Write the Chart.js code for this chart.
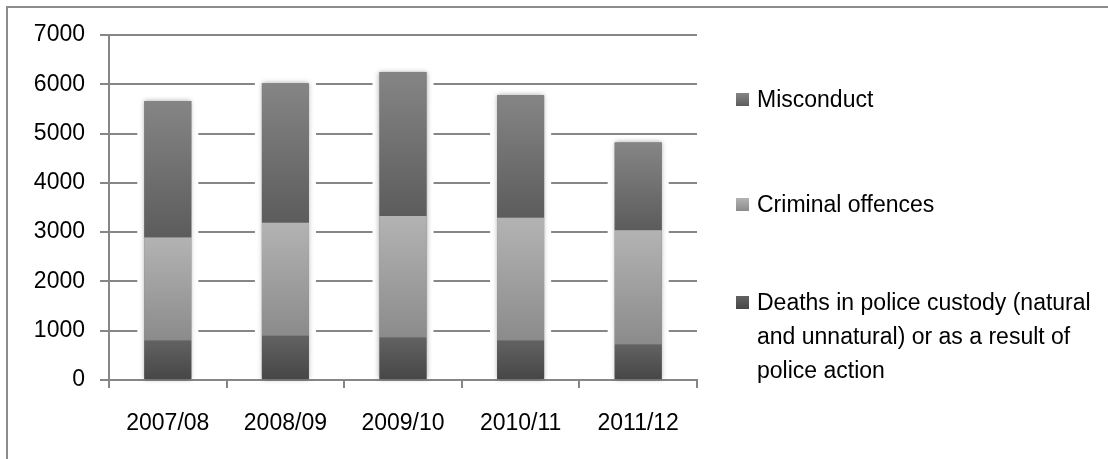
<!DOCTYPE html>
<html>
<head>
<meta charset="utf-8">
<script src="https://cdn.jsdelivr.net/npm/chart.js@4.4.0/dist/chart.umd.min.js"></script>
<style>
  html, body { margin: 0; padding: 0; background: #fff; }
  #wrap { position: relative; width: 1108px; height: 459px; overflow: hidden; }
  #frame { position: absolute; left: 6px; top: 6px; width: 1200px; height: 600px;
           border-top: 2px solid #8c8c8c; border-left: 2px solid #8c8c8c; }
  canvas { position: absolute; left: 0; top: 0; }
  .leg { position: absolute; left: 736px; font-family: "Liberation Sans", Arial, sans-serif;
         font-size: 23px; color: #000; line-height: 34px; }
  .leg .sw { position: absolute; left: 0; top: 11px; width: 13px; height: 13px; }
  .leg .tx { margin-left: 21px; white-space: nowrap; }
</style>
</head>
<body>
<div id="wrap">
  <div id="frame"></div>
  <canvas id="policeChart" width="1108" height="459"></canvas>
  <div id="legend"></div>
</div>
<script>
const years = ['2007/08', '2008/09', '2009/10', '2010/11', '2011/12'];
const deaths = [800, 900, 860, 800, 720];
const criminal = [2090, 2290, 2470, 2490, 2320];
const misconduct = [2770, 2830, 2920, 2490, 1780];
const yTicks = [0, 1000, 2000, 3000, 4000, 5000, 6000, 7000];

const deathsLabel = 'Deaths in police custody (natural and unnatural) or as a result of police action';
const shades = [
    ['#626262', '#464646'], // deaths
    ['#b3b3b3', '#8b8b8b'], // criminal offences
    ['#858585', '#5c5c5c']  // misconduct
];
const allSeries = [deaths, criminal, misconduct];

// vertical gradient per bar segment, like the original
function barFill(c) {
    const chart = c.chart;
    const y = chart.scales.y;
    const cols = shades[c.datasetIndex];
    if (!y || !chart.chartArea || c.dataIndex === undefined) return cols[0];
    let base = 0;
    for (let d = 0; d < c.datasetIndex; d++) base += allSeries[d][c.dataIndex];
    const top = y.getPixelForValue(base + allSeries[c.datasetIndex][c.dataIndex]);
    const bottom = y.getPixelForValue(base);
    const g = chart.ctx.createLinearGradient(0, top, 0, bottom);
    g.addColorStop(0, cols[0]);
    g.addColorStop(1, cols[1]);
    return g;
}

// white halo + soft shadow around each bar
const halo = {
    id: 'halo',
    beforeDatasetsDraw(chart) {
        const ctx = chart.ctx;
        const metas = chart.getSortedVisibleDatasetMetas();
        const last = metas[metas.length - 1];
        const first = metas[0];
        ctx.save();
        first.data.forEach((bar, i) => {
            const topBar = last.data[i];
            const left = bar.x - bar.width / 2;
            ctx.fillStyle = '#fff';
            ctx.fillRect(left - 7, topBar.y - 3, bar.width + 14, bar.base - topBar.y + 2);
            ctx.shadowColor = 'rgba(0,0,0,0.35)';
            ctx.shadowBlur = 5;
            ctx.fillStyle = '#777';
            ctx.fillRect(left, topBar.y, bar.width, bar.base - topBar.y);
            ctx.shadowColor = 'transparent';
        });
        ctx.restore();
    }
};

const ctx = document.getElementById('policeChart').getContext('2d');
const chart = new Chart(ctx, {
    type: 'bar',
    data: {
        labels: years,
        datasets: [
            { label: deathsLabel, data: deaths, backgroundColor: barFill },
            { label: 'Criminal offences', data: criminal, backgroundColor: barFill },
            { label: 'Misconduct', data: misconduct, backgroundColor: barFill }
        ]
    },
    options: {
        responsive: false,
        animation: false,
        devicePixelRatio: 1,
        layout: { padding: { top: 35, right: 411, bottom: 0, left: 0 } },
        datasets: { bar: { barPercentage: 0.4, categoryPercentage: 1 } },
        plugins: { legend: { display: false }, tooltip: { enabled: false } },
        scales: {
            x: {
                stacked: true,
                afterFit: s => { s.height = 79; },
                border: { color: '#868686', width: 2 },
                grid: { drawOnChartArea: false, drawTicks: true, tickLength: 8, color: '#868686', lineWidth: 2, offset: true },
                ticks: { color: '#000', padding: 22, font: { family: 'Liberation Sans', size: 23 } }
            },
            y: {
                stacked: true,
                min: 0,
                max: 7000,
                afterFit: s => { s.width = 109; },
                afterBuildTicks: s => { s.ticks = yTicks.map(v => ({ value: v })); },
                border: { color: '#868686', width: 2 },
                grid: { color: '#868686', lineWidth: 2, tickLength: 9 },
                ticks: {
                    color: '#000',
                    padding: 15,
                    font: { family: 'Liberation Sans', size: 23 },
                    callback: v => String(v)
                }
            }
        }
    },
    plugins: [halo]
});

// legend drawn as html so the long label can wrap
const legendItems = [
    { text: 'Misconduct', ds: 2, top: 82 },
    { text: 'Criminal offences', ds: 1, top: 187 },
    { text: deathsLabel, ds: 0, top: 285 }
];
const legendBox = document.getElementById('legend');
legendItems.forEach(item => {
    const div = document.createElement('div');
    div.className = 'leg';
    div.style.top = item.top + 'px';
    const sw = document.createElement('div');
    sw.className = 'sw';
    sw.style.background = 'linear-gradient(' + shades[item.ds][0] + ',' + shades[item.ds][1] + ')';
    const tx = document.createElement('div');
    tx.className = 'tx';
    if (item.ds === 0) {
        tx.innerHTML = 'Deaths in police custody (natural<br>and unnatural) or as a result of<br>police action';
    } else {
        tx.textContent = item.text;
    }
    div.appendChild(sw);
    div.appendChild(tx);
    legendBox.appendChild(div);
});
</script>
</body>
</html>
